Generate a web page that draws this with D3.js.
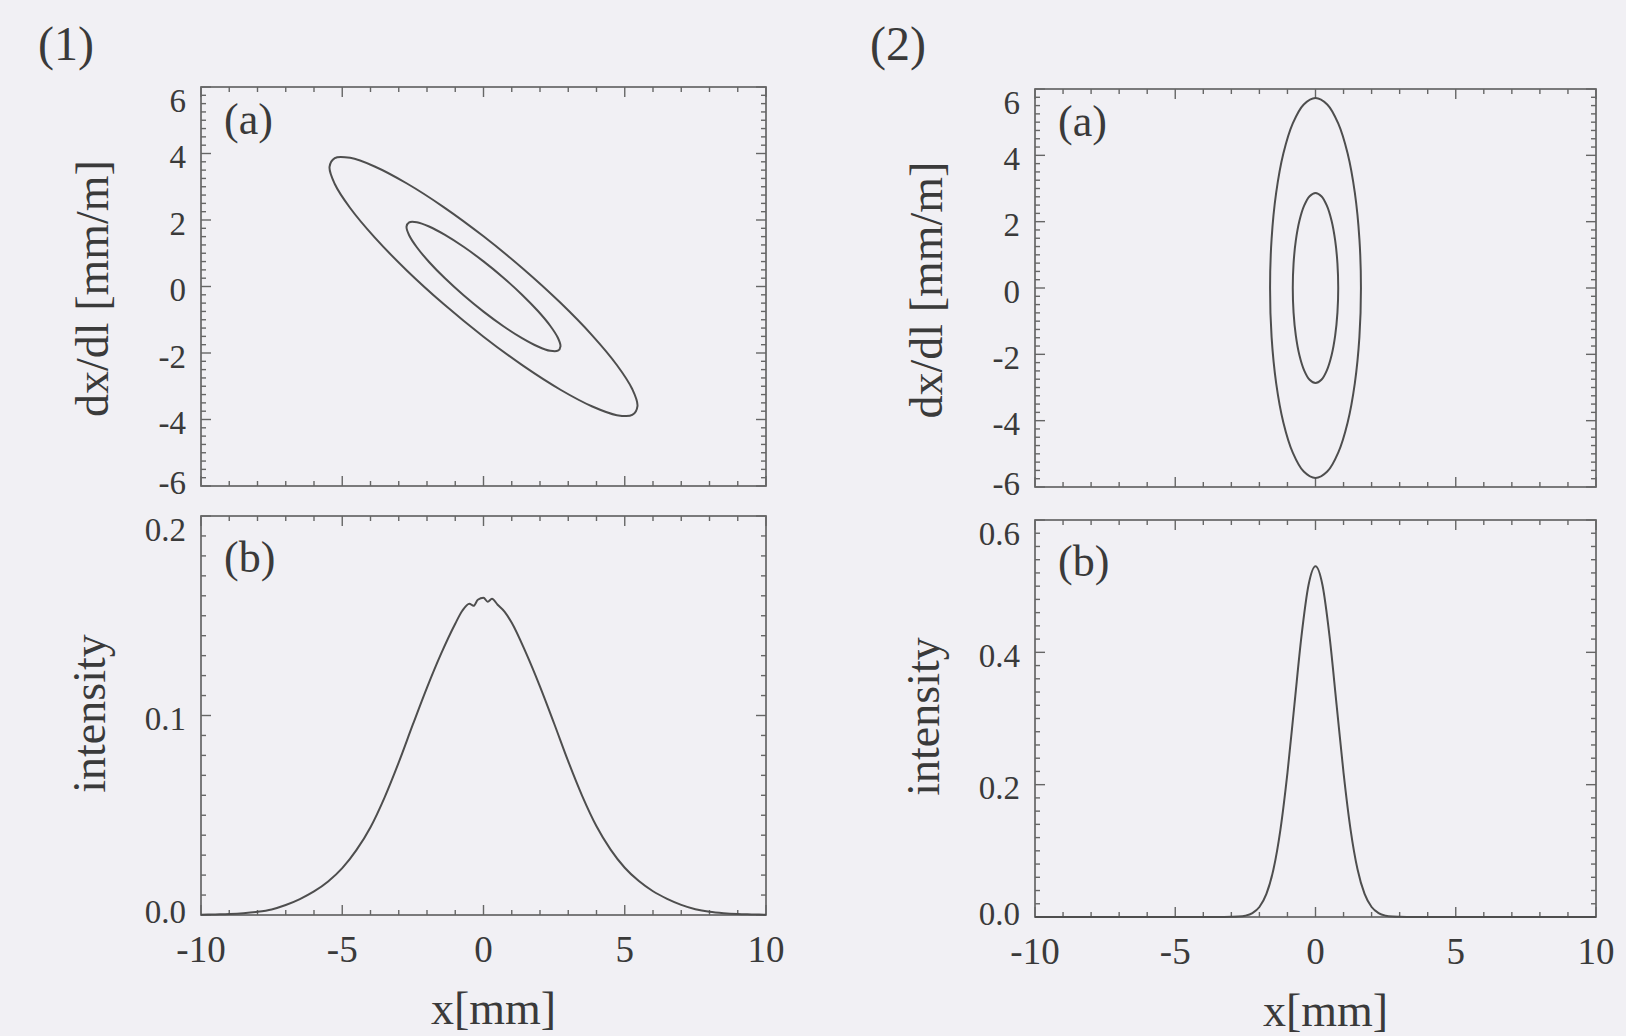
<!DOCTYPE html>
<html>
<head>
<meta charset="utf-8">
<script src="https://cdn.jsdelivr.net/npm/d3@7"></script>
<style>
  html, body { margin: 0; padding: 0; background: #f1f0f4; }
  svg { display: block; }
  text { font-family: "Liberation Serif", "Times New Roman", serif; fill: #3a3a3a; }
</style>
</head>
<body>
<svg id="chart" width="1626" height="1036"></svg>
<script>
// ---------------- DATA ----------------
const xTickValues = [-10, -5, 0, 5, 10];
const phaseTickValues = [-6, -4, -2, 0, 2, 4, 6];
const intensityTicks1 = [0.0, 0.1, 0.2];
const intensityTicks2 = [0.0, 0.2, 0.4, 0.6];

// (1)(a) phase-space contours, [x mm, dx/dl mm/m]
const ellipse1Outer = [
  [5.45,-3.596],[5.264,-3.083],[4.720,-2.360],[3.854,-1.476],[2.725,-0.491],[1.410,0.527],
  [0,1.509],[-1.410,2.389],[-2.725,3.105],[-3.854,3.610],[-4.720,3.869],[-5.264,3.864],
  [-5.45,3.596],[-5.264,3.083],[-4.720,2.360],[-3.854,1.476],[-2.725,0.491],[-1.410,-0.527],
  [0,-1.509],[1.410,-2.389],[2.725,-3.105],[3.854,-3.610],[4.720,-3.869],[5.264,-3.864]
];
const ellipse1Inner = [
  [2.725,-1.798],[2.632,-1.542],[2.360,-1.180],[1.927,-0.738],[1.363,-0.246],[0.705,0.264],
  [0,0.755],[-0.705,1.195],[-1.363,1.553],[-1.927,1.805],[-2.360,1.935],[-2.632,1.932],
  [-2.725,1.798],[-2.632,1.542],[-2.360,1.180],[-1.927,0.738],[-1.363,0.246],[-0.705,-0.264],
  [0,-0.755],[0.705,-1.195],[1.363,-1.553],[1.927,-1.805],[2.360,-1.935],[2.632,-1.932]
];
// (2)(a) phase-space contours
const ellipse2Outer = [
  [1.62,0],[1.565,1.483],[1.403,2.865],[1.146,4.052],[0.81,4.962],[0.419,5.535],
  [0,5.73],[-0.419,5.535],[-0.81,4.962],[-1.146,4.052],[-1.403,2.865],[-1.565,1.483],
  [-1.62,0],[-1.565,-1.483],[-1.403,-2.865],[-1.146,-4.052],[-0.81,-4.962],[-0.419,-5.535],
  [0,-5.73],[0.419,-5.535],[0.81,-4.962],[1.146,-4.052],[1.403,-2.865],[1.565,-1.483]
];
const ellipse2Inner = [
  [0.81,0],[0.782,0.742],[0.701,1.433],[0.573,2.026],[0.405,2.481],[0.210,2.767],
  [0,2.865],[-0.210,2.767],[-0.405,2.481],[-0.573,2.026],[-0.701,1.433],[-0.782,0.742],
  [-0.81,0],[-0.782,-0.742],[-0.701,-1.433],[-0.573,-2.026],[-0.405,-2.481],[-0.210,-2.767],
  [0,-2.865],[0.210,-2.767],[0.405,-2.481],[0.573,-2.026],[0.701,-1.433],[0.782,-0.742]
];
// (1)(b) intensity profile
const profile1X = [-10,-9.5,-9,-8.5,-8,-7.5,-7,-6.5,-6,-5.5,-5,-4.5,-4,-3.5,-3,-2.5,-2,-1.5,-1,-0.75,-0.5,-0.35,-0.2,0,0.15,0.3,0.5,0.75,1,1.5,2,2.5,3,3.5,4,4.5,5,5.5,6,6.5,7,7.5,8,8.5,9,9.5,10];
const profile1Y = [0.0001,0.0003,0.0005,0.0009,0.0016,0.0028,0.0050,0.0080,0.0118,0.0168,0.0235,0.0325,0.0440,0.0590,0.0765,0.0955,0.1140,0.1310,0.1460,0.1525,0.1560,0.1550,0.1580,0.1590,0.1570,0.1585,0.1555,0.1520,0.1465,0.1315,0.1145,0.0960,0.0770,0.0595,0.0445,0.0328,0.0237,0.0170,0.0119,0.0081,0.0051,0.0029,0.0016,0.0009,0.0005,0.0003,0.0001];
// (2)(b) intensity profile
const profile2X = [-10,-5,-3.25,-3,-2.75,-2.5,-2.25,-2,-1.75,-1.5,-1.25,-1,-0.75,-0.5,-0.25,0,0.25,0.5,0.75,1,1.25,1.5,1.75,2,2.25,2.5,2.75,3,3.25,5,10];
const profile2Y = [0,0,0,0.0002,0.0006,0.0020,0.0059,0.0151,0.0348,0.0717,0.1322,0.2179,0.3215,0.4244,0.5013,0.5300,0.5013,0.4244,0.3215,0.2179,0.1322,0.0717,0.0348,0.0151,0.0059,0.0020,0.0006,0.0002,0,0,0];

const groupLabels = ["(1)", "(2)"];
const panelLetters = ["(a)", "(b)"];
const xTitle = "x[mm]";
const phaseTitle = "dx/dl [mm/m]";
const intensityTitle = "intensity";

// ---------------- LAYOUT ----------------
const svg = d3.select("#chart");
const lineColor = "#4e4e4e";
const axisColor = "#666";
const hyphen = s => s.replace(/\u2212/g, "-");
const fmtInt = v => hyphen(d3.format("d")(v));
const fmt1 = v => hyphen(d3.format(".1f")(v));

const columns = [
  { x0: 201, x1: 766, aTop: 87, aBot: 486, bTop: 516, bBot: 915, label: groupLabels[0], labelX: 38,
    ellipses: [ellipse1Outer, ellipse1Inner], profX: profile1X, profY: profile1Y,
    yTicksB: intensityTicks1, yDomB: [0, 0.2], yMinorB: 0.01 },
  { x0: 1035, x1: 1596, aTop: 89, aBot: 487, bTop: 520, bBot: 917, label: groupLabels[1], labelX: 870,
    ellipses: [ellipse2Outer, ellipse2Inner], profX: profile2X, profY: profile2Y,
    yTicksB: intensityTicks2, yDomB: [0, 0.6], yMinorB: 0.02 }
];

function frame(g, x, y, xMinorStep, yMajor, yMinorStep, showXLabels, yFmt) {
  const [xa, xb] = x.range();
  const [ya, yb] = y.range(); // ya bottom, yb top
  const xd = x.domain(), yd = y.domain();
  const xMinor = d3.range(xd[0], xd[1] + 1e-9, xMinorStep);
  const yMinor = d3.range(yd[0], yd[1] + 1e-9, yMinorStep);
  const ticks = g.append("g").attr("stroke", axisColor).attr("stroke-width", 1.4);
  xMinor.forEach(v => {
    const isMajor = xTickValues.some(m => Math.abs(m - v) < 1e-9);
    const len = isMajor ? 10 : 5;
    ticks.append("line").attr("x1", x(v)).attr("x2", x(v)).attr("y1", ya).attr("y2", ya - len);
    ticks.append("line").attr("x1", x(v)).attr("x2", x(v)).attr("y1", yb).attr("y2", yb + len);
  });
  yMinor.forEach(v => {
    const isMajor = yMajor.some(m => Math.abs(m - v) < 1e-9);
    const len = isMajor ? 10 : 5;
    ticks.append("line").attr("y1", y(v)).attr("y2", y(v)).attr("x1", xa).attr("x2", xa + len);
    ticks.append("line").attr("y1", y(v)).attr("y2", y(v)).attr("x1", xb).attr("x2", xb - len);
  });
  g.append("rect").attr("x", xa).attr("y", yb).attr("width", xb - xa).attr("height", ya - yb)
    .attr("fill", "none").attr("stroke", axisColor).attr("stroke-width", 1.7);
  yMajor.forEach(v => {
    let cy = y(v) + 3;
    cy = Math.max(yb + 13, Math.min(ya - 4, cy));
    g.append("text").attr("x", xa - 15).attr("y", cy).attr("dy", "0.35em")
      .attr("text-anchor", "end").attr("font-size", 33).text(yFmt(v));
  });
  if (showXLabels) {
    xTickValues.forEach(v => {
      g.append("text").attr("x", x(v)).attr("y", ya + 47).attr("text-anchor", "middle")
        .attr("font-size", 37).text(fmtInt(v));
    });
  }
}

columns.forEach(c => {
  svg.append("text").attr("x", c.labelX).attr("y", 60).attr("font-size", 48).text(c.label);

  // ---- (a) phase space ----
  const xa = d3.scaleLinear().domain([-10, 10]).range([c.x0, c.x1]);
  const ya = d3.scaleLinear().domain([-6, 6]).range([c.aBot, c.aTop]);
  const ga = svg.append("g");
  frame(ga, xa, ya, 1, phaseTickValues, 0.25, false, fmtInt);
  const ell = d3.line().x(d => xa(d[0])).y(d => ya(d[1])).curve(d3.curveCatmullRomClosed.alpha(0.5));
  c.ellipses.forEach(e => {
    ga.append("path").attr("d", ell(e)).attr("fill", "none").attr("stroke", lineColor).attr("stroke-width", 2);
  });
  ga.append("text").attr("x", c.x0 + 23).attr("y", c.aTop + 47).attr("font-size", 44).text(panelLetters[0]);
  ga.append("text").attr("transform", `translate(${c.x0 - 93},${(c.aTop + c.aBot) / 2 + 2}) rotate(-90)`)
    .attr("text-anchor", "middle").attr("font-size", 46).text(phaseTitle);

  // ---- (b) intensity ----
  const xb = d3.scaleLinear().domain([-10, 10]).range([c.x0, c.x1]);
  const yb = d3.scaleLinear().domain(c.yDomB).range([c.bBot, c.bTop]);
  const gb = svg.append("g");
  frame(gb, xb, yb, 1, c.yTicksB, c.yMinorB, true, fmt1);
  const prof = d3.line().x((d, i) => xb(c.profX[i])).y(d => yb(d)).curve(d3.curveMonotoneX);
  gb.append("path").attr("d", prof(c.profY)).attr("fill", "none").attr("stroke", lineColor).attr("stroke-width", 2);
  gb.append("text").attr("x", c.x0 + 23).attr("y", c.bTop + 56).attr("font-size", 44).text(panelLetters[1]);
  gb.append("text").attr("transform", `translate(${c.x0 - 96},${(c.bTop + c.bBot) / 2 - 2}) rotate(-90)`)
    .attr("text-anchor", "middle").attr("font-size", 46).text(intensityTitle);
  gb.append("text").attr("x", (c.x0 + c.x1) / 2 + 10).attr("y", c.bBot + 109)
    .attr("text-anchor", "middle").attr("font-size", 46).text(xTitle);
});
</script>
</body>
</html>
